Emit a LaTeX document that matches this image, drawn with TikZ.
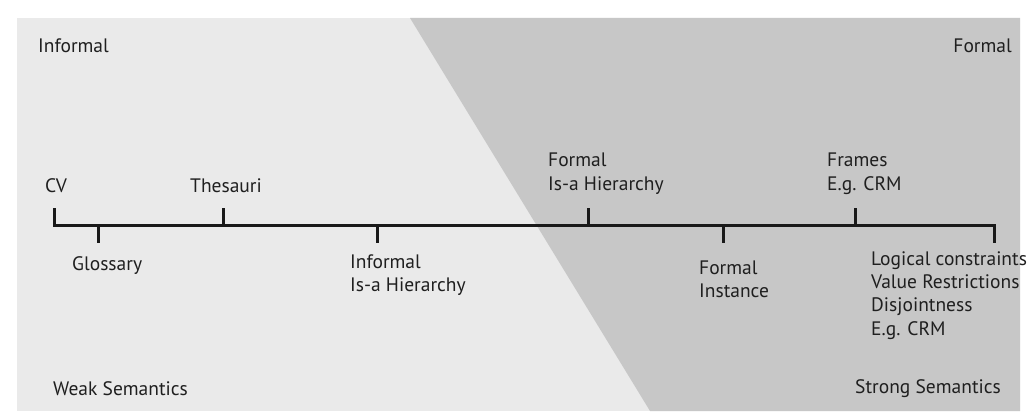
\documentclass[tikz,border=0pt]{standalone}
\usepackage{fontspec}
\setmainfont{PT Sans}
% lines stacked so that the box baseline is the first line's baseline
\newcommand\firstlinestack[1]{\vtop{\halign{##\hfil\cr#1\crcr}}}
\begin{document}
\begin{tikzpicture}[x=1pt,y=-1pt,
  lbl/.style={inner sep=0pt,anchor=base west,text=black!88,font=\fontsize{19.5}{23.5}\selectfont},
  axisline/.style={line width=3pt,black!90},
  tickmark/.style={line width=3pt,black!90}]
\definecolor{paleband}{HTML}{EAEAEA}
\definecolor{darkband}{HTML}{C7C7C7}
\useasboundingbox (0,0) rectangle (1033,414);
\fill[white] (0,0) rectangle (1033,414);
% background bands
\fill[paleband] (17,18) rectangle (1020,411);
\fill[darkband] (410,18) -- (1020,18) -- (1020,411) -- (650,411) -- cycle;
% axis with tick positions
\coordinate (cv) at (54,225);
\coordinate (glo) at (98,225);
\coordinate (the) at (223,225);
\coordinate (iih) at (377,225);
\coordinate (fih) at (588,225);
\coordinate (fin) at (723,225);
\coordinate (fra) at (855,225);
\coordinate (log) at (994,225);
\draw[axisline,line cap=rect] (cv) -- (log);
\foreach \p in {cv,the,fih,fra} \draw[tickmark] (\p) -- ++(0,-17);
\foreach \p in {glo,iih,fin,log} \draw[tickmark] (\p) -- ++(0,18);
% labels
\node[lbl] (informal) at (38,53) {Informal};
\node[lbl,anchor=base east] (formal) at (1012,53) {Formal};
\node[lbl] (lcv) at (45,193) {CV};
\node[lbl] (lthe) at (190,193) {Thesauri};
\node[lbl] (lfih) at (548,167) {\firstlinestack{Formal\cr Is-a Hierarchy}};
\node[lbl] (lfra) at (827,167) {\firstlinestack{Frames\cr E.g. CRM}};
\node[lbl] (lglo) at (72,270) {Glossary};
\node[lbl] (liih) at (350,268) {\firstlinestack{Informal\cr Is-a Hierarchy}};
\node[lbl] (lfin) at (699,274) {\firstlinestack{Formal\cr Instance}};
\node[lbl] (llog) at (871,265) {\firstlinestack{Logical constraints\cr Value Restrictions\cr Disjointness\cr E.g. CRM}};
\node[lbl] (weak) at (53,395) {Weak Semantics};
\node[lbl] (strong) at (855,393) {Strong Semantics};
\end{tikzpicture}
\end{document}
